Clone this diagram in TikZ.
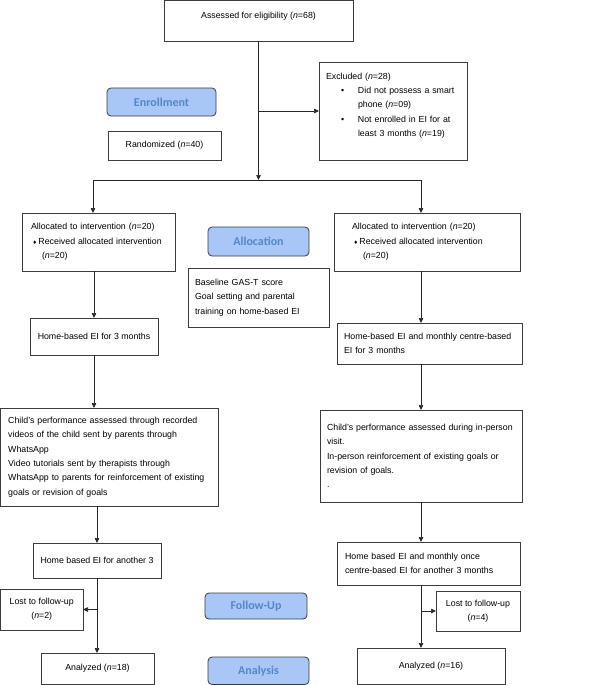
\documentclass[tikz,border=0pt]{standalone}
\usepackage{fontspec}
\setmainfont{Liberation Sans}
\newfontfamily\pillfont{Carlito}
\newfontfamily\symfont{DejaVu Sans}
\usetikzlibrary{arrows.meta}
\definecolor{pillfill}{RGB}{168,198,246}
\definecolor{pilltext}{RGB}{84,135,200}
\definecolor{boxline}{RGB}{60,60,60}

\begin{document}
\begin{tikzpicture}[
      x=1pt, y=-1pt,          % pixel-like coordinates, y pointing down
      box/.style={
          rectangle,
          draw=boxline,
          line width=0.8pt,
          inner sep=0pt,
          outer sep=0pt,
          align=center,
          font=\fontsize{8.8}{14.4}\selectfont
      },
      lbox/.style={box, align=left},
      pill/.style={
          rectangle,
          rounded corners=4pt,
          draw=boxline,
          fill=pillfill,
          line width=0.8pt,
          inner sep=0pt,
          text=pilltext,
          font=\pillfont\bfseries\fontsize{12}{14}\selectfont
      },
      link/.style={line width=0.7pt, draw=black!85},
      arrow/.style={link, -{Triangle[length=5pt,width=4.5pt]}}
  ]
      \useasboundingbox (0,0) rectangle (612,685);

      % Enrollment
      \node (assess) [box, minimum width=189pt, minimum height=40.5pt, text depth=11pt] at (258.5,20.75)
          {Assessed for eligibility (\textit{n}=68)};
      \node (excl) [lbox, minimum width=148pt, minimum height=98pt, text width=134pt, text depth=70pt] at (393,111)
          {Excluded (\textit{n}=28)\\
           \hspace*{15pt}\makebox[17pt][l]{•}Did not possess a smart\\
           \hspace*{32pt}phone (\textit{n}=09)\\
           \hspace*{15pt}\makebox[17pt][l]{•}Not enrolled in EI for at\\
           \hspace*{32pt}least 3 months (\textit{n}=19)};
      \node (enroll) [pill, minimum width=109pt, minimum height=28pt] at (161.5,102) {Enrollment};
      \node (rand) [box, minimum width=113pt, minimum height=29pt] at (164.5,145.5) {Randomized (\textit{n}=40)};

      % Allocation
      \node (alloc1) [lbox, minimum width=153pt, minimum height=58pt, text width=135pt] at (98.5,242)
          {Allocated to intervention (\textit{n}=20)\\
           \hspace*{1.5pt}{\symfont\fontsize{5}{5}\selectfont ♦}\hspace{1.5pt}Received allocated intervention\\
           \hspace*{11pt}(\textit{n}=20)};
      \node (alloc2) [lbox, minimum width=186pt, minimum height=58pt, text width=150pt] at (427,242)
          {Allocated to intervention (\textit{n}=20)\\
           \hspace*{1.5pt}{\symfont\fontsize{5}{5}\selectfont ♦}\hspace{1.5pt}Received allocated intervention\\
           \hspace*{11pt}(\textit{n}=20)};
      \node (allocp) [pill, minimum width=101pt, minimum height=29pt] at (258.5,241.5) {Allocation};
      \node (base) [lbox, minimum width=141pt, minimum height=59pt, text width=127pt] at (258.5,297.5)
          {Baseline GAS-T score\\
           Goal setting and parental\\
           training on home-based EI};

      \node (home1) [box, minimum width=128pt, minimum height=37pt] at (94,336.5) {Home-based EI for 3 months};
      \node (home2) [lbox, minimum width=185pt, minimum height=41pt, text width=171pt] at (429.5,343.5)
          {\mbox{Home-based EI and monthly centre-based}\\
           EI for 3 months};

      \node (child1) [lbox, minimum width=217.5pt, minimum height=98pt, text width=202pt] at (109.25,457)
          {Child’s performance assessed through recorded\\
           videos of the child sent by parents through\\
           WhatsApp\\
           Video tutorials sent by therapists through\\
           \mbox{WhatsApp to parents for reinforcement of existing}\\
           goals or revision of goals};
      \node (child2) [lbox, minimum width=202pt, minimum height=92pt, text width=188pt] at (421,456)
          {\mbox{Child’s performance assessed during in-person}\\
           visit.\\
           In-person reinforcement of existing goals or\\
           revision of goals.\\
           .};

      % Follow-up
      \node (home3) [box, minimum width=128pt, minimum height=35pt] at (97,560.5) {Home based EI for another 3};
      \node (home4) [lbox, minimum width=183pt, minimum height=43pt, text width=167pt] at (428.5,563.5)
          {Home based EI and monthly once\\
           centre-based EI for another 3 months};
      \node (lost1) [box, minimum width=82.5pt, minimum height=41pt] at (41.75,609.5)
          {Lost to follow-up\\(\textit{n}=2)};
      \node (lost2) [box, minimum width=84pt, minimum height=40pt] at (478,611)
          {Lost to follow-up\\(\textit{n}=4)};
      \node (followp) [pill, minimum width=102pt, minimum height=26pt] at (256,606) {Follow-Up};

      % Analysis
      \node (ana1) [box, minimum width=113pt, minimum height=31pt] at (97.5,668.5) {Analyzed (\textit{n}=18)};
      \node (ana2) [box, minimum width=148pt, minimum height=36pt] at (431,666) {Analyzed (\textit{n}=16)};
      \node (anap) [pill, minimum width=101pt, minimum height=27.5pt] at (258.5,670.75) {Analysis};

      % Split points
      \coordinate (split) at (258.5,180);
      \coordinate (splitL) at (93,180);
      \coordinate (splitR) at (421,180);

      % Arrows
      \draw [arrow] (assess) -- (split);
      \draw [arrow] (split |- excl.west) -- (excl.west);
      \draw [link] (splitL) -- (splitR);
      \draw [arrow] (splitL) -- (splitL |- alloc1.north);
      \draw [arrow] (splitR) -- (splitR |- alloc2.north);
      \draw [arrow] (home1 |- alloc1.south) -- (home1.north);
      \draw [arrow] (splitR |- alloc2.south) -- (splitR |- home2.north);
      \draw [arrow] (home1.south) -- (home1.south |- child1.north);
      \draw [arrow] (child2 |- home2.south) -- (child2.north);
      \draw [arrow] (home3 |- child1.south) -- (home3.north);
      \draw [arrow] (child2.south) -- (child2.south |- home4.north);
      \draw [arrow] (home3.south) -- (home3.south |- ana1.north);
      \draw [arrow] (home3.south |- lost1.east) -- (lost1.east);
      \draw [arrow] (child2.south |- home4.south) -- (child2.south |- ana2.north);
      \draw [arrow] (child2.south |- lost2.west) -- (lost2.west);
  \end{tikzpicture}
\end{document}
